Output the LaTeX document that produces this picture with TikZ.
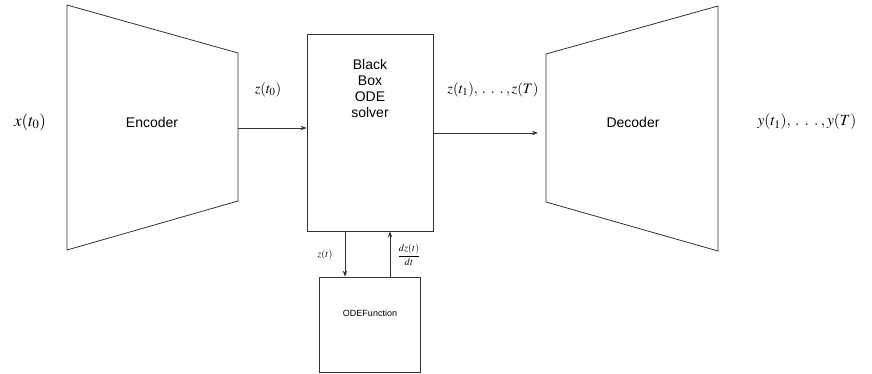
\documentclass[tikz,border=0pt]{standalone}
\usepackage{mathptmx}
\usepackage{fontspec}
\setmainfont{Liberation Sans}
\usetikzlibrary{arrows.meta}
% widely spaced ellipsis for the sequence labels
\newcommand\seqdots{\mkern3mu.\mkern6mu.\mkern6mu.\mkern3mu}
\begin{document}
\begin{tikzpicture}[x=1pt,y=-1pt,
  edge/.style={draw=black!80,line width=0.8pt},
  flow/.style={edge,-{Stealth[length=6pt,width=4.5pt]}},
  boxnode/.style={edge,rectangle,inner sep=0pt},
  sans/.style={font=\fontsize{14}{16.3}\selectfont},
  mathlbl/.style={inner sep=0pt}]
\useasboundingbox (0,0) rectangle (872,373);

% encoder and decoder trapezoids
\draw[edge] (67,5) -- (238,53) -- (238,201) -- (67,250) -- cycle;
\draw[edge] (718,6) -- (546,54) -- (546,202) -- (718,251) -- cycle;
\node[sans] (enc) at (152,122) {Encoder};
\node[sans] (dec) at (633,122) {Decoder};

% solver and ODE function boxes
\node[boxnode,minimum width=126pt,minimum height=197pt] (solver) at (370,132.5) {};
\node[sans,align=center] (solvertext) at (370,88.5) {Black\\Box\\ODE\\solver};
\node[boxnode,minimum width=101pt,minimum height=95pt] (ode) at (369.5,324.5) {};
\node[font=\fontsize{9}{10}\selectfont] (odetext) at (370,313) {ODEFunction};

% connector ends
\coordinate (encout) at (238,128);
\coordinate (solvout) at (433,133);
\coordinate (decin) at (538,133);
\coordinate (zdown) at (345,0);
\coordinate (zup) at (390,0);

\draw[flow] (encout) -- (solver.west |- encout);
\draw[flow] (solvout) -- (decin);
\draw[flow] (solver.south -| zdown) -- (ode.north -| zdown);
\draw[flow] (ode.north -| zup) -- (solver.south -| zup);

% labels
\node[mathlbl,font=\fontsize{17}{20}\selectfont] (xin) at (30,122) {$x(t_0)$};
\node[mathlbl,font=\fontsize{14.5}{17}\selectfont] (zt0) at (268,90) {$z(t_0)$};
\node[mathlbl,font=\fontsize{14.5}{17}\selectfont] (zts) at (493,90) {$z(t_1),\seqdots,z(T)$};
\node[mathlbl,font=\fontsize{15.5}{18}\selectfont] (yout) at (807,122) {$y(t_1),\seqdots,y(T)$};
\node[mathlbl,font=\fontsize{10}{12}\selectfont] (zt) at (325,255) {$z(t)$};
\node[mathlbl,font=\fontsize{10}{12}\selectfont] (dzdt) at (409,255) {$\displaystyle\frac{dz(t)}{dt}$};
\end{tikzpicture}
\end{document}
